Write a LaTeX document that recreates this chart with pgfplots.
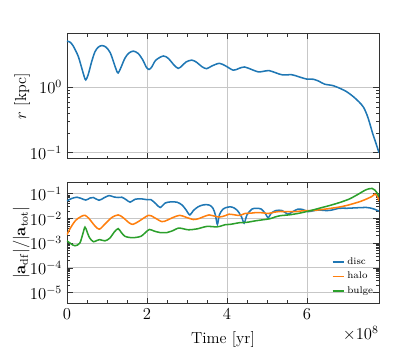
\documentclass[border=0pt]{standalone}
\usepackage{pgfplots}
\pgfplotsset{compat=1.18}
\definecolor{Cblue}{HTML}{1F77B4}
\definecolor{Corange}{HTML}{FF7F0E}
\definecolor{Cgreen}{HTML}{2CA02C}

\pgfplotsset{
  mypanel/.style={
    scale only axis,
    width=224.6pt,
    xmin=0, xmax=7.8,
    xtick={0,2,4,6},
    minor x tick num=3,
    tick align=inside,
    xtick pos=both, ytick pos=both,
    major tick length=4pt, minor tick length=2.2pt,
    grid=major,
    major grid style={black!22, line width=0.6pt},
    axis line style={black!80, line width=0.6pt},
    every tick/.style={black!80, line width=0.5pt},
    tick label style={font=\fontsize{11.5}{13}\selectfont},
    label style={font=\fontsize{11.5}{13}\selectfont},
    every axis plot/.append style={line width=1.1pt, smooth},
  },
}

\begin{document}
\begin{tikzpicture}
\path[use as bounding box] (-48.2pt,-40.1pt) rectangle (239.0pt,218.4pt);

% top panel: radius
\begin{axis}[mypanel,
  ymode=log,
  at={(0pt,104.1pt)},
  height=90pt,
  ymin=0.081, ymax=6.6,
  ytick={0.1,1},
  xticklabels={},
  ylabel={$r$ [kpc]},
  ylabel style={at={(axis description cs:-0.144,0.5)}, anchor=center},
]
\addplot[Cblue, no markers] coordinates {
(0.00,5.1) (0.08,4.9) (0.16,4.25) (0.28,3.0) (0.37,1.97) (0.43,1.47) (0.47,1.3)
(0.53,1.56) (0.62,2.5) (0.70,3.5) (0.78,4.1) (0.87,4.35) (0.97,4.15) (1.08,3.4)
(1.18,2.3) (1.24,1.8) (1.28,1.66) (1.34,1.95) (1.45,2.8) (1.55,3.35) (1.66,3.58)
(1.78,3.3) (1.90,2.6) (1.98,2.05) (2.05,1.88) (2.12,2.05) (2.22,2.6) (2.41,3.02)
(2.54,2.75) (2.66,2.25) (2.78,1.95) (2.88,2.15) (2.98,2.45) (3.12,2.61) (3.24,2.42)
(3.37,2.08) (3.49,1.93) (3.62,2.12) (3.81,2.33) (3.97,2.12) (4.16,1.83) (4.30,1.95)
(4.44,2.05) (4.62,1.87) (4.79,1.72) (4.93,1.77) (5.06,1.8) (5.22,1.67) (5.39,1.55)
(5.62,1.56) (5.80,1.45) (5.99,1.34) (6.16,1.33) (6.30,1.24) (6.44,1.12) (6.66,1.06)
(6.85,0.95) (6.99,0.86) (7.16,0.72) (7.30,0.6) (7.41,0.5) (7.50,0.38) (7.57,0.28)
(7.65,0.19) (7.70,0.155) (7.75,0.125) (7.80,0.1)
};
\end{axis}

% bottom panel: dynamical friction ratio
\begin{axis}[mypanel,
  ymode=log,
  at={(0pt,0pt)},
  height=87.3pt,
  ymin=3.65e-6, ymax=0.298,
  ytick={1e-5,1e-4,1e-3,1e-2,1e-1},
  xlabel={Time [yr]},
  xlabel style={yshift=-2pt},
  ylabel={$|\mathbf{a}_{\rm df}|/|\mathbf{a}_{\rm tot}|$},
  ylabel style={at={(axis description cs:-0.147,0.5)}, anchor=center},
  legend style={at={(rel axis cs:1,0)}, anchor=south east, xshift=1pt, yshift=1.5pt,
    draw=none, fill=none, font=\fontsize{7}{8}\selectfont, row sep=0.2pt,
    legend cell align=left},
  legend image code/.code={\draw[#1, line width=1.1pt] (0pt,0pt) -- (8pt,0pt);},
  after end axis/.code={
    \node[anchor=north east, inner sep=0pt, font=\fontsize{11.5}{13}\selectfont]
      at ([yshift=-16pt]rel axis cs:1,0) {$\times10^{8}$};
  },
]
\addplot[Cblue, no markers] coordinates {
(0.00,0.052) (0.12,0.065) (0.25,0.073) (0.35,0.066) (0.47,0.056) (0.58,0.068)
(0.66,0.071) (0.80,0.055) (0.92,0.068) (1.05,0.085) (1.17,0.075) (1.28,0.071)
(1.37,0.073) (1.48,0.058) (1.58,0.046) (1.70,0.060) (1.85,0.063) (2.00,0.058)
(2.10,0.058) (2.22,0.040) (2.33,0.028) (2.45,0.042) (2.58,0.047) (2.75,0.046)
(2.88,0.035) (2.98,0.022) (3.07,0.014) (3.16,0.021) (3.28,0.030) (3.42,0.036)
(3.56,0.035) (3.65,0.026) (3.71,0.014) (3.76,0.0058) (3.81,0.014) (3.90,0.024)
(4.02,0.029) (4.13,0.029) (4.25,0.022) (4.36,0.012) (4.43,0.0065) (4.50,0.014)
(4.62,0.024) (4.74,0.026) (4.86,0.024) (4.97,0.015) (5.03,0.0105) (5.10,0.016)
(5.22,0.021) (5.38,0.021) (5.52,0.015) (5.62,0.018) (5.77,0.024) (5.90,0.023)
(6.03,0.019) (6.18,0.021) (6.32,0.022) (6.48,0.021) (6.62,0.022) (6.80,0.026)
(7.00,0.026) (7.20,0.027) (7.49,0.028) (7.65,0.025) (7.80,0.020)
};
\addlegendentry{disc}
\addplot[Corange, no markers] coordinates {
(0.00,0.0022) (0.10,0.0045) (0.22,0.0085) (0.35,0.012) (0.45,0.0135) (0.55,0.010)
(0.70,0.0050) (0.81,0.0037) (0.95,0.0060) (1.12,0.011) (1.28,0.0140) (1.40,0.011)
(1.55,0.0068) (1.65,0.0058) (1.80,0.0078) (2.04,0.0135) (2.18,0.011) (2.37,0.0075)
(2.50,0.0085) (2.65,0.011) (2.82,0.0135) (2.98,0.0112) (3.16,0.0091) (3.30,0.0100)
(3.45,0.0125) (3.55,0.0140) (3.80,0.0115) (3.95,0.013) (4.05,0.015) (4.20,0.014)
(4.32,0.0133) (4.45,0.016) (4.60,0.0165) (4.74,0.0175) (4.90,0.017) (5.03,0.016)
(5.18,0.018) (5.33,0.0193) (5.50,0.019) (5.70,0.019) (5.90,0.0206) (6.10,0.021)
(6.25,0.022) (6.45,0.024) (6.60,0.026) (6.80,0.029) (7.00,0.034) (7.20,0.042)
(7.35,0.050) (7.50,0.063) (7.62,0.078) (7.70,0.097) (7.75,0.085) (7.80,0.052)
};
\addlegendentry{halo}
\addplot[Cgreen, no markers] coordinates {
(0.00,0.00125) (0.10,0.00095) (0.20,0.00079) (0.32,0.0010) (0.40,0.0025) (0.45,0.0045)
(0.50,0.0030) (0.56,0.0017) (0.66,0.00115) (0.75,0.0013) (0.82,0.0014) (0.95,0.00125)
(1.07,0.0016) (1.18,0.0028) (1.28,0.0039) (1.36,0.0027) (1.45,0.0019) (1.58,0.0017)
(1.70,0.0017) (1.85,0.0019) (1.95,0.0026) (2.06,0.0036) (2.18,0.0031) (2.33,0.0027)
(2.50,0.0027) (2.62,0.0031) (2.79,0.0041) (2.92,0.0038) (3.04,0.0035) (3.25,0.0038)
(3.50,0.0048) (3.70,0.0046) (3.82,0.0048) (3.95,0.0056) (4.08,0.0058) (4.32,0.0068)
(4.49,0.0070) (4.74,0.0082) (5.07,0.0098) (5.20,0.0115) (5.33,0.0130) (5.57,0.0142)
(5.82,0.0166) (6.07,0.0206) (6.32,0.0264) (6.57,0.0338) (6.82,0.0447) (7.07,0.063)
(7.32,0.105) (7.45,0.140) (7.55,0.160) (7.63,0.166) (7.70,0.140) (7.75,0.110)
(7.80,0.078)
};
\addlegendentry{bulge}
\end{axis}
\end{tikzpicture}
\end{document}
